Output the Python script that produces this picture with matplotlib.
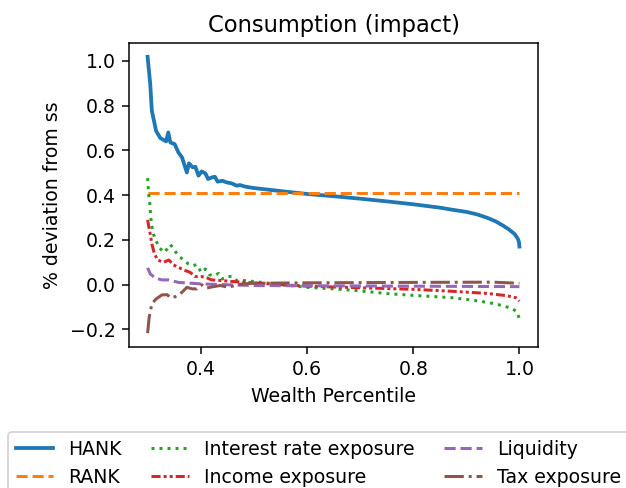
import matplotlib
matplotlib.use("Agg")
import matplotlib.pyplot as plt

# wealth percentile grids and responses
x_hank = [0.299, 0.304, 0.307, 0.315, 0.323, 0.334, 0.338, 0.342, 0.350, 0.357,
          0.364, 0.369, 0.373, 0.377, 0.384, 0.389, 0.395, 0.401, 0.408, 0.413,
          0.420, 0.426, 0.431, 0.440, 0.448, 0.458, 0.467, 0.473, 0.483, 0.498,
          0.55, 0.60, 0.65, 0.70, 0.75, 0.80, 0.85, 0.875, 0.90, 0.92, 0.94,
          0.955, 0.969, 0.98, 0.991, 0.997, 0.999, 1.0]
hank = [1.018, 0.896, 0.777, 0.687, 0.655, 0.640, 0.680, 0.635, 0.628, 0.591,
        0.568, 0.531, 0.501, 0.542, 0.524, 0.527, 0.487, 0.506, 0.497, 0.472,
        0.479, 0.482, 0.460, 0.464, 0.457, 0.452, 0.442, 0.445, 0.438, 0.432,
        0.418, 0.405, 0.395, 0.384, 0.372, 0.359, 0.344, 0.334, 0.325, 0.314,
        0.298, 0.283, 0.264, 0.247, 0.226, 0.205, 0.192, 0.170]

x_rank = [0.3, 1.0]
rank = [0.41, 0.41]

x_rate = [0.299, 0.300, 0.301, 0.303, 0.305, 0.307, 0.310, 0.315, 0.321, 0.331,
          0.339, 0.342, 0.349, 0.357, 0.367, 0.376, 0.384, 0.392, 0.400, 0.408,
          0.415, 0.423, 0.433, 0.440, 0.450, 0.458, 0.467, 0.483, 0.498, 0.55,
          0.60, 0.65, 0.70, 0.75, 0.80, 0.85, 0.875, 0.90, 0.925, 0.95, 0.97,
          0.985, 0.995, 1.0]
rate = [0.476, 0.442, 0.405, 0.367, 0.300, 0.263, 0.226, 0.196, 0.164, 0.144,
        0.170, 0.179, 0.156, 0.129, 0.110, 0.092, 0.085, 0.089, 0.055, 0.070,
        0.045, 0.039, 0.050, 0.025, 0.036, 0.037, 0.018, 0.018, 0.014, 0.000,
        -0.012, -0.019, -0.028, -0.040, -0.048, -0.055, -0.059, -0.066, -0.074,
        -0.084, -0.095, -0.106, -0.120, -0.153]

x_income = [0.299, 0.301, 0.304, 0.307, 0.312, 0.318, 0.329, 0.339, 0.348, 0.357,
            0.370, 0.379, 0.389, 0.401, 0.411, 0.420, 0.439, 0.464, 0.498, 0.55,
            0.60, 0.70, 0.80, 0.875, 0.937, 0.975, 0.994, 1.0]
income = [0.289, 0.263, 0.226, 0.182, 0.137, 0.110, 0.100, 0.110, 0.088, 0.077,
          0.063, 0.055, 0.036, 0.036, 0.030, 0.021, 0.018, 0.013, 0.008, 0.000,
          -0.007, -0.014, -0.021, -0.030, -0.039, -0.049, -0.059, -0.074]

x_liq = [0.299, 0.304, 0.313, 0.326, 0.339, 0.357, 0.401, 0.498, 0.70, 0.90, 1.0]
liq = [0.075, 0.048, 0.030, 0.021, 0.021, 0.010, 0.003, -0.004, -0.006, -0.008, -0.009]

x_tax = [0.299, 0.302, 0.307, 0.315, 0.326, 0.336, 0.342, 0.351, 0.364, 0.373,
         0.383, 0.392, 0.401, 0.411, 0.423, 0.436, 0.451, 0.464, 0.477, 0.498,
         0.60, 0.80, 0.95, 1.0]
tax = [-0.217, -0.146, -0.086, -0.064, -0.046, -0.045, -0.059, -0.054, -0.034,
       -0.012, -0.019, -0.019, 0.000, -0.015, -0.009, -0.004, -0.012, -0.004,
       0.003, 0.006, 0.008, 0.010, 0.011, 0.006]

fig = plt.figure(figsize=(626 / 136, 488 / 136), dpi=136)
ax = fig.add_axes([129 / 626, 1 - 347 / 488, 409 / 626, 304 / 488])

ax.plot(x_hank, hank, color="tab:blue", lw=2, label="HANK")
ax.plot(x_rank, rank, color="tab:orange", lw=1.6, ls="--", label="RANK")
ax.plot(x_rate, rate, color="tab:green", lw=1.6, ls=":", label="Interest rate exposure")
ax.plot(x_income, income, color="tab:red", lw=1.6, ls=(0, (3, 1, 1, 1, 1, 1)), label="Income exposure")
ax.plot(x_liq, liq, color="tab:purple", lw=1.6, ls="--", label="Liquidity")
ax.plot(x_tax, tax, color="tab:brown", lw=1.6, ls="-.", label="Tax exposure")

ax.set_title("Consumption (impact)")
ax.set_xlabel("Wealth Percentile")
ax.set_ylabel("% deviation from ss")

fig.legend(loc="upper left", bbox_to_anchor=(8 / 626, 1 - 432 / 488),
           bbox_transform=fig.transFigure, ncol=3, borderaxespad=0,
           fontsize=10, columnspacing=1.55)

fig.savefig("out.png", dpi=136)
